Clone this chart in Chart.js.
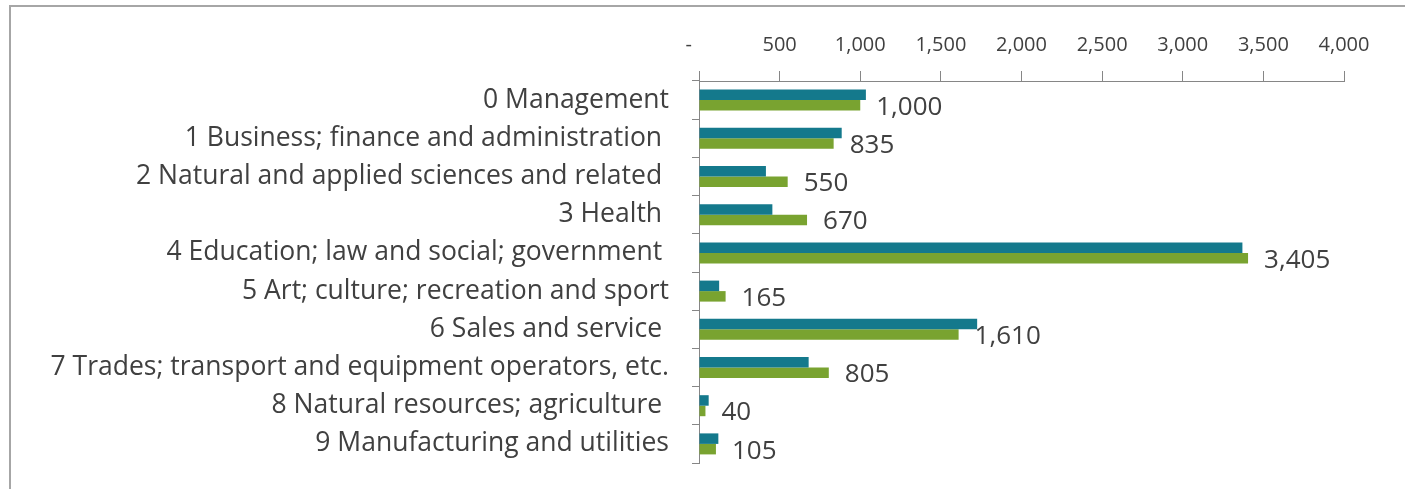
<!DOCTYPE html>
<html>
<head>
<meta charset="utf-8">
<script src="https://cdn.jsdelivr.net/npm/chart.js@4.4.1/dist/chart.umd.min.js"></script>
<style>
  html, body { margin: 0; padding: 0; background: #ffffff; overflow: hidden; }
  #wrap { position: relative; width: 1405px; height: 489px; }
  #frame { position: absolute; left: 9px; top: 5px; width: 1500px; height: 600px;
           border-left: 2px solid #a6a6a6; border-top: 2px solid #a6a6a6; pointer-events: none; }
  canvas { position: absolute; left: 0; top: 0; }
</style>
</head>
<body>
<div id="wrap">
  <canvas id="c" width="1405" height="489"></canvas>
  <div id="frame"></div>
</div>
<script>
const categories = [
  "0 Management",
  "1 Business; finance and administration ",
  "2 Natural and applied sciences and related ",
  "3 Health ",
  "4 Education; law and social; government ",
  "5 Art; culture; recreation and sport",
  "6 Sales and service ",
  "7 Trades; transport and equipment operators, etc.",
  "8 Natural resources; agriculture ",
  "9 Manufacturing and utilities"
];
const seriesTeal = [1035, 885, 415, 455, 3370, 125, 1725, 680, 60, 120];
const seriesGreen = [1000, 835, 550, 670, 3405, 165, 1610, 805, 40, 105];
const xTicks = [0, 500, 1000, 1500, 2000, 2500, 3000, 3500, 4000];

const fmt = v => v === 0 ? "-    " : v.toLocaleString("en-US");

const dataLabels = {
  id: "dataLabels",
  afterDatasetsDraw(chart) {
    const ctx = chart.ctx;
    const meta = chart.getDatasetMeta(1);
    ctx.save();
    ctx.font = "26px 'Open Sans'";
    ctx.fillStyle = "#404040";
    ctx.textAlign = "left";
    ctx.textBaseline = "middle";
    meta.data.forEach((bar, i) => {
      ctx.fillText(seriesGreen[i].toLocaleString("en-US"), bar.x + 16, bar.y + 2);
    });
    ctx.restore();
  }
};

new Chart(document.getElementById("c"), {
  type: "bar",
  data: {
    labels: categories,
    datasets: [
      { data: seriesTeal, backgroundColor: "#14798c", borderWidth: 0 },
      { data: seriesGreen, backgroundColor: "#79a330", borderWidth: 0 }
    ]
  },
  options: {
    indexAxis: "y",
    responsive: false,
    animation: false,
    devicePixelRatio: 1,
    datasets: { bar: { categoryPercentage: 0.55, barPercentage: 1.0 } },
    layout: { padding: { left: 0, right: 61, top: 0, bottom: 26 } },
    plugins: { legend: { display: false }, tooltip: { enabled: false } },
    scales: {
      x: {
        position: "top",
        min: 0, max: 4000,
        afterBuildTicks: s => { s.ticks = xTicks.map(v => ({ value: v })); },
        afterFit: s => { s.height = 81; s.paddingLeft = 0; s.paddingRight = 0; },
        grid: { drawOnChartArea: false, drawTicks: true, tickLength: 10, color: "#868686" },
        border: { color: "#868686", width: 1 },
        ticks: {
          callback: v => fmt(v),
          font: { family: "'Open Sans'", size: 20 },
          color: "#404040",
          padding: 14,
          maxRotation: 0
        }
      },
      y: {
        afterFit: s => { s.width = 699; s.paddingTop = 0; s.paddingBottom = 0; },
        grid: { drawOnChartArea: false, drawTicks: true, tickLength: 7, color: "#868686", offset: true },
        border: { color: "#868686", width: 1 },
        ticks: {
          font: { family: "'Open Sans'", size: 26.5 },
          color: "#404040",
          padding: 23,
          autoSkip: false
        }
      }
    }
  },
  plugins: [dataLabels]
});
</script>
</body>
</html>
